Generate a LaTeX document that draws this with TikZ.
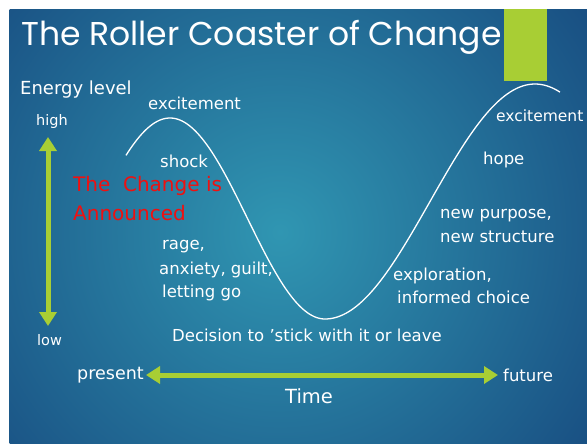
\documentclass[tikz,border=0pt]{standalone}
\usepackage{fontspec}
\setmainfont{DejaVu Sans}
\newfontfamily\titlefont{Poppins}
\usetikzlibrary{arrows.meta}
\definecolor{lime}{RGB}{168,206,52}
\definecolor{navy}{RGB}{10,34,100}
\definecolor{tealc}{RGB}{48,150,178}
\definecolor{redc}{RGB}{240,16,16}
\begin{document}
\begin{tikzpicture}[x=1pt,y=-1pt,
  lbl/.style={text=white, inner sep=0pt, anchor=west, font=\fontsize{16.5}{18}\selectfont},
  small/.style={lbl, font=\fontsize{14.5}{16}\selectfont},
  redlbl/.style={text=redc, inner sep=0pt, anchor=west, font=\fontsize{20}{22}\selectfont},
  arr/.style={draw=lime, line width=5pt, {Triangle[width=17pt,length=14pt]}-{Triangle[width=17pt,length=14pt]}},
  curve/.style={draw=white, line width=1.3pt}]
\useasboundingbox (0,0) rectangle (587,444);
\fill[white] (0,0) rectangle (587,444);
\begin{scope}
  \clip (9.5,9.5) rectangle (587,444);
  \shade[inner color=tealc, outer color=navy] (280,232) circle (620);
  \fill[lime] (504,9.5) rectangle (547,81);
  % roller coaster curve
  \draw[curve] plot[domain=126:325, samples=90] (\x, {218.5-100.5*cos((\x-170)/155*180)})
     -- plot[domain=325:560, samples=90] (\x, {201.5+117.5*cos((\x-325)/210*180)});
\end{scope}
% title
\node[anchor=base west, inner sep=0pt, text=white, font=\titlefont\fontsize{33}{36}\selectfont] (title) at (21,46) {The Roller Coaster of Change};
% axes labels
\node[lbl, font=\fontsize{18}{20}\selectfont] (energy) at (20,90) {Energy level};
\node[small] (high) at (36,121.5) {high};
\node[small] (low) at (37,340.5) {low};
\node[lbl, font=\fontsize{17.5}{20}\selectfont] (present) at (77,375) {present};
\node[lbl] (future) at (503,375) {future};
\node[lbl, font=\fontsize{19.5}{20}\selectfont] (time) at (285,396) {Time};
% curve labels
\node[lbl] (exc1) at (148,103) {excitement};
\node[lbl, font=\fontsize{15.5}{18}\selectfont] (exc2) at (496,115.5) {excitement};
\node[lbl] (shock) at (160,161) {shock};
\node[redlbl] (chg1) at (73,185.5) {The\ \ Change is};
\node[redlbl] (chg2) at (73,213.5) {Announced};
\node[lbl] (rage1) at (162,246.5) {rage,};
\node[lbl] (rage2) at (159,270) {anxiety, guilt,};
\node[lbl] (rage3) at (162,292.5) {letting go};
\node[lbl] (decision) at (172,335) {Decision to 'stick with it or leave};
\node[lbl] (expl1) at (393,275.5) {exploration,};
\node[lbl] (expl2) at (397,297.5) {informed choice};
\node[lbl] (newp1) at (440,215.5) {new purpose,};
\node[lbl] (newp2) at (440,236.5) {new structure};
\node[lbl] (hope) at (483,159.5) {hope};
% arrows
\coordinate (vtop) at (48,137);
\coordinate (vbot) at (48,326);
\coordinate (hleft) at (146,375);
\coordinate (hright) at (498,375);
\draw[arr] (vtop) -- (vbot);
\draw[arr] (hleft) -- (hright);
\end{tikzpicture}
\end{document}
